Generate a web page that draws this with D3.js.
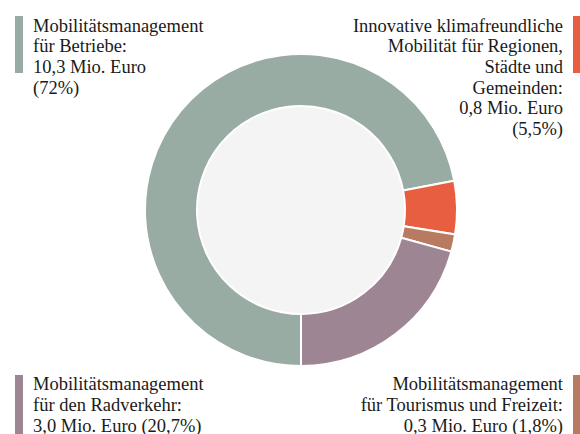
<!DOCTYPE html>
<html>
<head>
<meta charset="utf-8">
<script src="https://cdn.jsdelivr.net/npm/d3@7"></script>
</head>
<body style="margin:0">
<svg id="chart" width="580" height="434" font-family="Liberation Serif"></svg>
<script>
// shares in percent, starting at 6 o'clock going clockwise
var categories = ["Betriebe", "Regionen", "Tourismus", "Radverkehr"];
var shares = [72, 5.5, 1.8, 20.7];
var colors = ["#98aca4", "#e85e41", "#b97a62", "#9e8593"];

// legend texts, one array of lines per category
var labels = [
  ["Mobilitätsmanagement", "für Betriebe:", "10,3 Mio. Euro", "(72%)"],
  ["Innovative klimafreundliche", "Mobilität für Regionen,", "Städte und", "Gemeinden:", "0,8 Mio. Euro", "(5,5%)"],
  ["Mobilitätsmanagement", "für Tourismus und Freizeit:", "0,3 Mio. Euro (1,8%)"],
  ["Mobilitätsmanagement", "für den Radverkehr:", "3,0 Mio. Euro (20,7%)"]
];

var svg = d3.select("#chart");
var cx = 301, cy = 210, outerR = 156, innerR = 104;

var g = svg.append("g").attr("transform", "translate(" + cx + "," + cy + ")");

// light fill in the hole
g.append("circle").attr("r", innerR).attr("fill", "#f4f4f4");

var pie = d3.pie().sort(null)
  .startAngle(Math.PI).endAngle(3 * Math.PI)
  .value(function(d){ return d; });

var arc = d3.arc().innerRadius(innerR).outerRadius(outerR);

g.selectAll("path")
  .data(pie(shares))
  .enter().append("path")
  .attr("d", arc)
  .attr("fill", function(d, i){ return colors[i]; })
  .attr("stroke", "#fff")
  .attr("stroke-width", 2);

// legend blocks: bar + text
var legend = [
  {idx: 0, x: 33, y: 31.5, lh: 20.7, anchor: "start", barX: 15, barY: 16, barH: 57},
  {idx: 1, x: 563, y: 31.5, lh: 20.7, anchor: "end", barX: 573, barY: 16, barH: 57},
  {idx: 2, x: 563, y: 390, lh: 21, anchor: "end", barX: 573, barY: 375, barH: 60},
  {idx: 3, x: 33, y: 390, lh: 21, anchor: "start", barX: 15, barY: 375, barH: 60}
];

legend.forEach(function(l){
  svg.append("rect")
    .attr("x", l.barX).attr("y", l.barY)
    .attr("width", 8).attr("height", l.barH)
    .attr("fill", colors[l.idx]);

  // one text element per line
  svg.append("g").selectAll("text")
    .data(labels[l.idx])
    .enter().append("text")
    .attr("x", l.x)
    .attr("y", function(d, j){ return l.y + j * l.lh; })
    .attr("text-anchor", l.anchor)
    .attr("font-family", "Liberation Serif")
    .attr("font-size", 18.5)
    .attr("fill", "#1a1a1a")
    .text(function(d){ return d; });
});
</script>
</body>
</html>
